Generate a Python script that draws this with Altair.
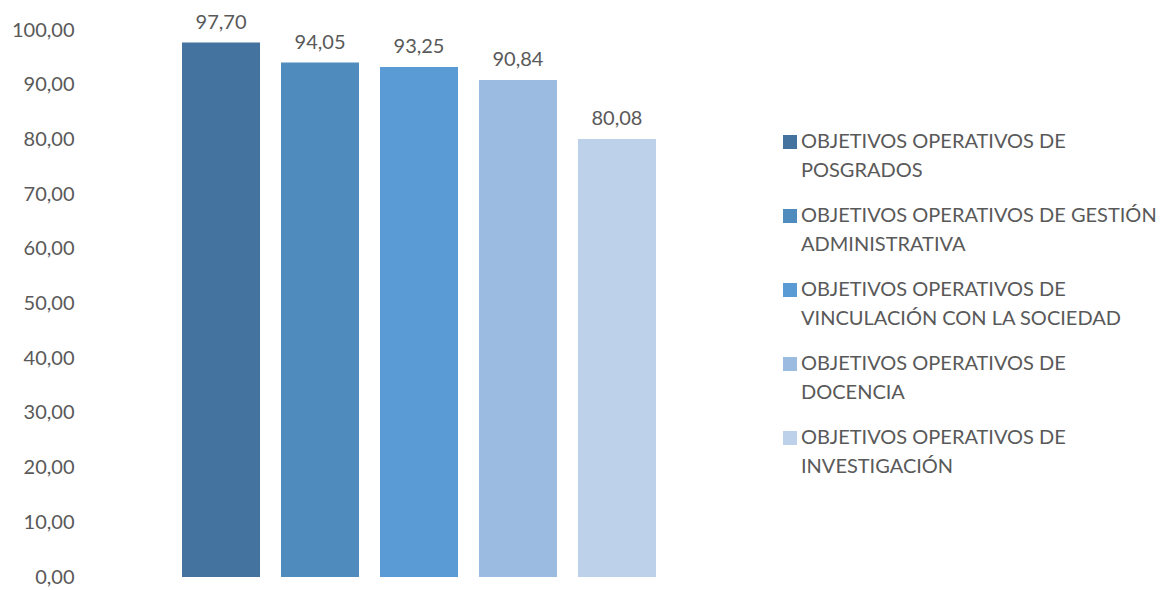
import altair as alt
import pandas as pd

categories = [
    "OBJETIVOS OPERATIVOS DE\nPOSGRADOS",
    "OBJETIVOS OPERATIVOS DE GESTIÓN\nADMINISTRATIVA",
    "OBJETIVOS OPERATIVOS DE\nVINCULACIÓN CON LA SOCIEDAD",
    "OBJETIVOS OPERATIVOS DE\nDOCENCIA",
    "OBJETIVOS OPERATIVOS DE\nINVESTIGACIÓN",
]
values = [97.70, 94.05, 93.25, 90.84, 80.08]
colors = ["#44739F", "#508BBD", "#5B9BD5", "#9BBBE0", "#BDD1EA"]
y_ticks = [0, 10, 20, 30, 40, 50, 60, 70, 80, 90, 100]

df = pd.DataFrame({"cat": categories, "val": values})
df["lbl"] = [f"{v:.2f}".replace(".", ",") for v in values]

FONT = "Lato"
TXT = "#595959"

x = alt.X("cat:N", sort=categories, axis=None,
          scale=alt.Scale(paddingInner=0.212, paddingOuter=0.98))
y = alt.Y("val:Q", scale=alt.Scale(domain=[0, 100], nice=False),
          axis=alt.Axis(values=y_ticks, grid=False, domain=False, ticks=False, tickSize=0,
                        labelPadding=11, labelFont=FONT, labelFontSize=20, labelColor=TXT,
                        labelExpr="replace(format(datum.value, '.2f'), '.', ',')", title=None))

bars = alt.Chart(df).mark_bar().encode(
    x=x, y=y,
    color=alt.Color("cat:N", sort=categories,
                    scale=alt.Scale(domain=categories, range=colors),
                    legend=alt.Legend(title=None, orient="none", legendX=695, legendY=102,
                                      padding=0,
                                      symbolType="square", symbolSize=196, symbolStrokeWidth=0,
                                      labelFont=FONT, labelFontSize=20, labelColor=TXT,
                                      labelOffset=1, labelLimit=420, rowPadding=25,
                                      labelExpr="split(datum.label, '\\n')")),
)

text = alt.Chart(df).mark_text(baseline="alphabetic", dy=-14, font=FONT, fontSize=20, color=TXT).encode(
    x=alt.X("cat:N", sort=categories), y="val:Q", text="lbl:N"
)

chart = (bars + text).properties(
    width=668, height=547,
    autosize=alt.AutoSizeParams(type="none"),
    padding={"left": 77, "top": 22, "right": 409, "bottom": 10},
).configure(
    style={"guide-label": {"lineHeight": 29}},
    view=alt.ViewConfig(stroke=None),
)

chart.save("out.html", embed_options={"renderer": "svg", "actions": False})
